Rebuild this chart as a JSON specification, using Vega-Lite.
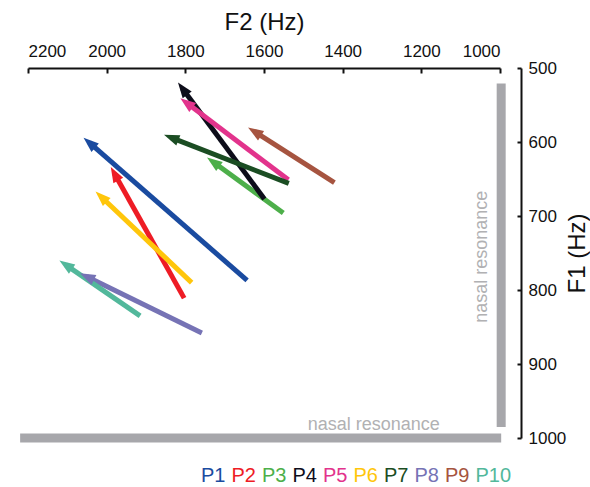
{
  "$schema": "https://vega.github.io/schema/vega-lite/v6.json",
  "width": 472,
  "height": 370,
  "autosize": {"type": "none"},
  "padding": {"left": 28, "top": 68, "right": 90, "bottom": 49},
  "background": "white",
  "config": {
    "view": {"stroke": null},
    "font": "Liberation Sans",
    "axis": {
      "grid": false,
      "domainColor": "#111111",
      "domainWidth": 2,
      "tickColor": "#111111",
      "tickWidth": 2,
      "labelColor": "#111111",
      "titleColor": "#111111",
      "labelFont": "Liberation Sans",
      "titleFont": "Liberation Sans",
      "labelFontSize": 17,
      "titleFontSize": 24,
      "titleFontWeight": "normal",
      "format": "d"
    }
  },
  "resolve": {"legend": {"color": "independent"}},
  "datasets": {
    "arrows": [
      {"speaker": "P1", "f2_start": 1643, "f1_start": 787, "f2_end": 2044, "f1_end": 601},
      {"speaker": "P2", "f2_start": 1803, "f1_start": 811, "f2_end": 1980, "f1_end": 643},
      {"speaker": "P3", "f2_start": 1551, "f1_start": 696, "f2_end": 1729, "f1_end": 627},
      {"speaker": "P4", "f2_start": 1599, "f1_start": 677, "f2_end": 1807, "f1_end": 528},
      {"speaker": "P5", "f2_start": 1538, "f1_start": 651, "f2_end": 1797, "f1_end": 547},
      {"speaker": "P6", "f2_start": 1784, "f1_start": 790, "f2_end": 2014, "f1_end": 674},
      {"speaker": "P7", "f2_start": 1537, "f1_start": 656, "f2_end": 1836, "f1_end": 594},
      {"speaker": "P8", "f2_start": 1758, "f1_start": 858, "f2_end": 2050, "f1_end": 782},
      {"speaker": "P9", "f2_start": 1421, "f1_start": 655, "f2_end": 1624, "f1_end": 586},
      {"speaker": "P10", "f2_start": 1915, "f1_start": 835, "f2_end": 2104, "f1_end": 766}
    ],
    "bars": [
      {"band": "F1 nasal", "f2_a": 2220, "f2_b": 997, "f1_a": 1000, "f1_b": 1000},
      {"band": "F2 nasal", "f2_a": 997, "f2_b": 997, "f1_a": 521, "f1_b": 985}
    ],
    "labels": [
      {"text": "nasal resonance", "f2": 1153, "f1": 989, "dir": "h"},
      {"text": "nasal resonance", "f2": 1034, "f1": 755, "dir": "v"}
    ]
  },
  "layer": [
    {
      "data": {"name": "bars"},
      "mark": {"type": "rule", "strokeWidth": 9, "strokeCap": "butt", "color": "#a7a7ab"},
      "encoding": {
        "x": {
          "field": "f2_a", "type": "quantitative",
          "scale": {"domain": [1000, 2200], "reverse": true, "nice": false, "zero": false},
          "axis": {
            "orient": "top",
            "title": "F2 (Hz)",
            "values": [2200, 2000, 1800, 1600, 1400, 1200, 1000],
            "tickSize": -5,
            "labelPadding": 13,
            "titlePadding": 8
          }
        },
        "x2": {"field": "f2_b"},
        "y": {
          "field": "f1_a", "type": "quantitative",
          "scale": {"domain": [500, 1000], "reverse": true, "nice": false, "zero": false},
          "axis": {
            "orient": "right",
            "offset": 21,
            "title": "F1 (Hz)",
            "titleAngle": 270,
            "values": [500, 600, 700, 800, 900, 1000],
            "tickSize": -4,
            "labelPadding": 11,
            "titlePadding": 24
          }
        },
        "y2": {"field": "f1_b"}
      }
    },
    {
      "data": {"name": "labels"},
      "transform": [{"filter": "datum.dir == 'h'"}],
      "mark": {"type": "text", "align": "right", "baseline": "alphabetic", "fontSize": 18, "color": "#b1b1b3", "font": "Liberation Sans"},
      "encoding": {
        "x": {"field": "f2", "type": "quantitative"},
        "y": {"field": "f1", "type": "quantitative"},
        "text": {"field": "text"}
      }
    },
    {
      "data": {"name": "labels"},
      "transform": [{"filter": "datum.dir == 'v'"}],
      "mark": {"type": "text", "align": "center", "baseline": "alphabetic", "angle": 270, "fontSize": 18, "color": "#b1b1b3", "font": "Liberation Sans"},
      "encoding": {
        "x": {"field": "f2", "type": "quantitative"},
        "y": {"field": "f1", "type": "quantitative"},
        "text": {"field": "text"}
      }
    },
    {
      "data": {"name": "arrows"},
      "mark": {"type": "rule", "strokeWidth": 5, "strokeCap": "butt"},
      "encoding": {
        "x": {"field": "f2_start", "type": "quantitative"},
        "y": {"field": "f1_start", "type": "quantitative"},
        "x2": {"field": "f2_end"},
        "y2": {"field": "f1_end"},
        "color": {
          "field": "speaker", "type": "nominal",
          "scale": {
            "domain": ["P1", "P2", "P3", "P4", "P5", "P6", "P7", "P8", "P9", "P10"],
            "range": ["#1a4ba0", "#ee1c25", "#4daf4a", "#0d0d1a", "#e2338c", "#ffc60b", "#1b4d23", "#7673b5", "#a65440", "#52b89b"]
          },
          "legend": {
            "orient": "none",
            "legendX": 173,
            "legendY": 398,
            "direction": "horizontal",
            "columns": 10,
            "title": null,
            "symbolSize": 0,
            "symbolStrokeWidth": 0,
            "symbolOpacity": 0,
            "labelOffset": -20,
            "columnPadding": 5.5,
            "labelFontSize": 20,
            "labelFont": "Liberation Sans",
            "encode": {
              "symbols": {"update": {"size": {"value": 0}, "strokeWidth": {"value": 0}, "opacity": {"value": 0}}},
              "labels": {"update": {"fill": {"scale": "color", "field": "value"}}}
            }
          }
        }
      }
    },
    {
      "data": {"name": "arrows"},
      "transform": [
        {"calculate": "atan2(-(datum.f2_end - datum.f2_start) * 472 / 1200, -(datum.f1_end - datum.f1_start) * 370 / 500) * 180 / PI", "as": "head_angle"}
      ],
      "mark": {"type": "point", "shape": "M0,-0.55L0.4,0.55L-0.4,0.55Z", "size": 784, "filled": true, "opacity": 1, "strokeWidth": 0},
      "encoding": {
        "x": {"field": "f2_end", "type": "quantitative"},
        "y": {"field": "f1_end", "type": "quantitative"},
        "angle": {"field": "head_angle", "type": "quantitative", "scale": null},
        "color": {"field": "speaker", "type": "nominal", "legend": null}
      }
    }
  ]
}
